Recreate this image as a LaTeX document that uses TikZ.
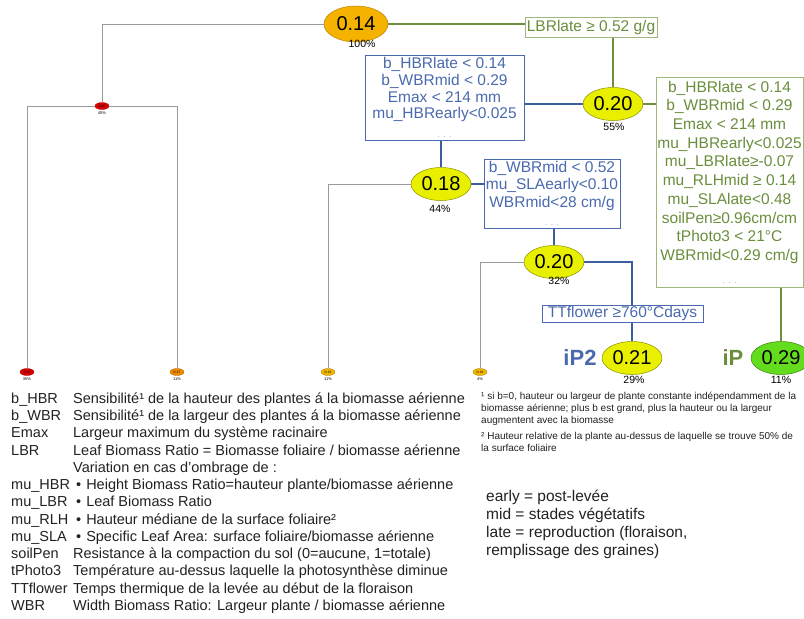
\documentclass[tikz,border=0pt]{standalone}
\usepackage{fontspec}
\setmainfont{Liberation Sans}
\usetikzlibrary{shapes.geometric}
\pgfdeclarelayer{bg}
\pgfsetlayers{bg,main}
\definecolor{tblue}{HTML}{4A6AAE}
\definecolor{lblue}{HTML}{3D5E9E}
\definecolor{tgreen}{HTML}{6A8E3C}
\definecolor{lgreen}{HTML}{6E8F3E}
\definecolor{bgreen}{HTML}{9DB87A}
\definecolor{gline}{HTML}{9A9A9A}
\definecolor{rootfill}{HTML}{F5B300}
\definecolor{yfill}{HTML}{E8F000}
\definecolor{gfill}{HTML}{62DC1C}
\definecolor{redfill}{HTML}{DD0000}
\definecolor{orfill}{HTML}{F08A00}
\definecolor{yofill}{HTML}{F2B600}
\definecolor{txt}{HTML}{222222}
\newcommand\fsz[2]{\fontsize{#1}{#2}\selectfont}
\begin{document}
\begin{tikzpicture}[x=1pt,y=-1pt,
  bignode/.style={ellipse,inner sep=0pt,minimum width=60,minimum height=33,font=\fsz{20}{20},line width=0.5},
  rootst/.style={bignode,fill=rootfill,draw=rootfill!75!black,minimum width=64,minimum height=36},
  ynode/.style={bignode,fill=yfill,draw=yfill!60!black},
  gnode/.style={bignode,fill=gfill,draw=gfill!60!black},
  leaf/.style={ellipse,inner sep=0pt,minimum width=14,minimum height=7,font=\fsz{3.5}{3.5},line width=0.3},
  redleaf/.style={leaf,fill=redfill,draw=redfill!70!black},
  orleaf/.style={leaf,fill=orfill,draw=orfill!70!black},
  yoleaf/.style={leaf,fill=yofill,draw=yofill!70!black},
  pct/.style={inner sep=0pt,font=\fsz{10.5}{10.5}},
  tinypct/.style={inner sep=0pt,font=\fsz{4}{4}},
  bbox/.style={draw=tblue,fill=white,text=tblue,inner sep=0pt,align=center,line width=0.8},
  gbox/.style={draw=bgreen,fill=white,text=tgreen,inner sep=0pt,align=center,line width=0.8},
  lab/.style={inner sep=0pt,font=\fsz{22}{22}\bfseries},
  grayline/.style={draw=gline,line width=0.9},
  blueline/.style={draw=lblue,line width=2.4},
  greenline/.style={draw=lgreen,line width=2.4}
]
\useasboundingbox (0,0) rectangle (804,619);

% tree nodes
\node[rootst] (root) at (356,24) {0.14};
\node[pct] (proot) at (362,44) {100\%};
\node[redleaf] (lc) at (102,106) {0.09};
\node[tinypct] (plc) at (102,113) {45\%};
\node[redleaf] (l1) at (27,372) {0.07};
\node[tinypct] (pl1) at (27,379) {35\%};
\node[orleaf] (l2) at (177,372) {0.17};
\node[tinypct] (pl2) at (177,379) {11\%};
\node[yoleaf] (l3) at (328,372) {0.13};
\node[tinypct] (pl3) at (328,379) {11\%};
\node[yoleaf] (l4) at (480,372) {0.14};
\node[tinypct] (pl4) at (480,379) {4\%};

\node[gbox,minimum width=132,minimum height=20,font=\fsz{15.5}{15.5}] (lbr) at (591,27) {LBRlate ≥ 0.52 g/g};
\node[ynode] (n20) at (613,104) {0.20};
\node[pct] (pn20) at (614,127) {55\%};

\node[bbox,minimum width=159,minimum height=85,font=\fsz{15.5}{16.7}] (b1) at (444.5,97.5)
  {b\_HBRlate < 0.14\\ b\_WBRmid < 0.29\\ Emax < 214 mm\\ mu\_HBRearly<0.025\\[2pt] {\fsz{9}{16.7}\color{gray!60}. . .}};
\node[ynode] (n18) at (441,184) {0.18};
\node[pct] (pn18) at (440,209) {44\%};

\node[bbox,minimum width=136,minimum height=69,font=\fsz{15.5}{17.5}] (b2) at (552,193.5)
  {b\_WBRmid < 0.52\\ mu\_SLAearly<0.10\\ WBRmid<28 cm/g\\[1pt] {\fsz{9}{17.5}\color{gray!60}. . .}};
\node[ynode] (n20b) at (554,262) {0.20};
\node[pct] (pn20b) at (559,281) {32\%};

\node[bbox,minimum width=161,minimum height=17,font=\fsz{15.5}{15.5}] (tt) at (622.5,313.5) {TTflower ≥760°Cdays};
\node[ynode] (ip2) at (632,358) {0.21};
\node[pct] (pip2) at (634,380) {29\%};
\node[lab,text=tblue] (lip2) at (580,358) {iP2};

\node[gbox,minimum width=147,minimum height=210,font=\fsz{15.5}{18.7}] (g1) at (729.5,182)
  {b\_HBRlate < 0.14\\ b\_WBRmid < 0.29\\ Emax < 214 mm\\ mu\_HBRearly<0.025\\ mu\_LBRlate≥-0.07\\
   mu\_RLHmid ≥ 0.14\\ mu\_SLAlate<0.48\\ soilPen≥0.96cm/cm\\ tPhoto3 < 21°C\\ WBRmid<0.29 cm/g\\[4pt]
   {\fsz{9}{18.7}\color{gray!60}. . .}};
\node[gnode] (ip) at (781,358) {0.29};
\node[pct] (pip) at (781,380) {11\%};
\node[lab,text=tgreen] (lip) at (733,358) {iP};

% connectors
\begin{pgfonlayer}{bg}
\fill[white] (0,0) rectangle (804,619);
\draw[grayline] (root.west) -| (lc.north);
\draw[grayline] (lc.west) -| (l1.north);
\draw[grayline] (lc.east) -| (l2.north);
\draw[grayline] (n18.west) -| (l3.north);
\draw[grayline] (n20b.west) -| (l4.north);
\draw[greenline] (root.east) -- (root.east -| lbr.west);
\draw[greenline] (lbr.south -| n20) -- (n20.north);
\draw[greenline] (n20.east) -- (n20.east -| g1.west);
\draw[greenline] (g1.south -| ip) -- (ip.north);
\draw[blueline] (n20.west) -- (n20.west -| b1.east);
\draw[blueline] (b1.south -| n18) -- (n18.north);
\draw[blueline] (n18.east) -- (n18.east -| b2.west);
\draw[blueline] (b2.south -| n20b) -- (n20b.north);
\draw[blueline] (n20b.east) -| (tt.north -| ip2);
\draw[blueline] (tt.south -| ip2) -- (ip2.north);
\end{pgfonlayer}

% legend
\node[anchor=north west,inner sep=0pt,text=txt,font=\fsz{14.5}{17.25}] (legend) at (11,391) {%
\begin{tabular}{@{}p{62pt}@{}l@{}}
b\_HBR & Sensibilité¹ de la hauteur des plantes á la biomasse aérienne\\
b\_WBR & Sensibilité¹ de la largeur des plantes á la biomasse aérienne\\
Emax & Largeur maximum du système racinaire\\
LBR & Leaf Biomass Ratio = Biomasse foliaire / biomasse aérienne\\
 & Variation en cas d'ombrage de :\\
mu\_HBR & \hspace{3pt}•\hspace{5pt}Height Biomass Ratio=hauteur plante/biomasse aérienne\\
mu\_LBR & \hspace{3pt}•\hspace{5pt}Leaf Biomass Ratio\\
mu\_RLH & \hspace{3pt}•\hspace{5pt}Hauteur médiane de la surface foliaire²\\
mu\_SLA & \hspace{3pt}•\hspace{5pt}Specific Leaf Area: surface foliaire/biomasse aérienne\\
soilPen & Resistance à la compaction du sol (0=aucune, 1=totale)\\
tPhoto3 & Température au-dessus laquelle la photosynthèse diminue\\
TTflower & Temps thermique de la levée au début de la floraison\\
WBR & Width Biomass Ratio: Largeur plante / biomasse aérienne
\end{tabular}};

\node[anchor=north west,inner sep=0pt,text=txt,align=left,font=\fsz{10}{12}] (notes) at (481,392)
{¹ si b=0, hauteur ou largeur de plante constante indépendamment de la\\
biomasse aérienne; plus b est grand, plus la hauteur ou la largeur\\
augmentent avec la biomasse\\[4pt]
² Hauteur relative de la plante au-dessus de laquelle se trouve 50\% de\\
la surface foliaire};

\node[anchor=north west,inner sep=0pt,text=txt,align=left,font=\fsz{15.5}{18}] (phases) at (486,490)
{early = post-levée\\
mid = stades végétatifs\\
late = reproduction (floraison,\\
remplissage des graines)};
\end{tikzpicture}
\end{document}
